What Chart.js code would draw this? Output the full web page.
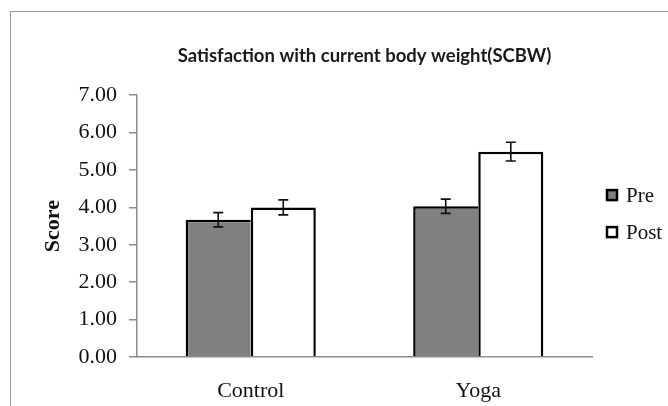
<!DOCTYPE html>
<html>
<head>
<meta charset="utf-8">
<script src="https://cdn.jsdelivr.net/npm/chart.js@4"></script>
<style>
  html, body { margin: 0; padding: 0; background: #fff; }
  #wrap { position: relative; width: 668px; height: 406px; overflow: hidden; }
  #frame { position: absolute; left: 10px; top: 11px; width: 700px; height: 450px;
           border-left: 1.5px solid #9a9a9a; border-top: 1.5px solid #9a9a9a; box-sizing: border-box; }
  canvas { position: absolute; left: 0; top: 0; }
</style>
</head>
<body>
<div id="wrap">
  <div id="frame"></div>
  <canvas id="c" width="668" height="406"></canvas>
</div>
<script>
// Groups on the x axis
const categories = ['Control', 'Yoga'];
// Mean scores per group
const preScores = [3.67, 4.03];
const postScores = [4.00, 5.49];
// Standard error of each mean
const preErrors = [0.19, 0.19];
const postErrors = [0.20, 0.25];
// Y axis range and tick step
const yMin = 0, yMax = 7, yStep = 1;

const errorsByDataset = [preErrors, postErrors];

// Draws the error whiskers on top of each bar
const errorBars = {
  id: 'errorBars',
  afterDatasetsDraw(chart) {
    const { ctx, scales: { y } } = chart;
    ctx.save();
    ctx.strokeStyle = '#111';
    ctx.lineWidth = 1.6;
    chart.data.datasets.forEach((ds, di) => {
      const meta = chart.getDatasetMeta(di);
      meta.data.forEach((bar, i) => {
        const v = ds.data[i], e = errorsByDataset[di][i];
        const top = y.getPixelForValue(v + e);
        const bot = y.getPixelForValue(v - e);
        const cap = 5;
        ctx.beginPath();
        ctx.moveTo(bar.x, top); ctx.lineTo(bar.x, bot);
        ctx.moveTo(bar.x - cap, top); ctx.lineTo(bar.x + cap, top);
        ctx.moveTo(bar.x - cap, bot); ctx.lineTo(bar.x + cap, bot);
        ctx.stroke();
      });
    });
    ctx.restore();
  }
};

// Legend with small square swatches to the right of the plot
const sideLegend = {
  id: 'sideLegend',
  afterDraw(chart) {
    const { ctx, chartArea } = chart;
    const mid = (chartArea.top + chartArea.bottom) / 2;
    const rows = [mid - 31, mid + 6];
    ctx.save();
    ctx.font = '21px "Liberation Serif"';
    ctx.textBaseline = 'middle';
    chart.data.datasets.forEach((ds, i) => {
      const cy = rows[i];
      const bx = chartArea.right + 15;
      ctx.fillStyle = ds.backgroundColor;
      ctx.fillRect(bx, cy - 5, 10, 10);
      ctx.strokeStyle = '#000';
      ctx.lineWidth = 2.5;
      ctx.strokeRect(bx, cy - 5, 10, 10);
      ctx.fillStyle = '#111';
      ctx.fillText(ds.label, bx + 19, cy + 1);
    });
    ctx.restore();
  }
};

new Chart(document.getElementById('c'), {
  type: 'bar',
  data: {
    labels: categories,
    datasets: [
      { label: 'Pre', data: preScores, backgroundColor: '#808080', borderColor: '#000',
        borderWidth: { top: 2.5, left: 2.5, right: 0, bottom: 0 }, borderSkipped: false },
      { label: 'Post', data: postScores, backgroundColor: '#ffffff', borderColor: '#000',
        borderWidth: { top: 2.5, left: 2.5, right: 2.5, bottom: 0 }, borderSkipped: false }
    ]
  },
  options: {
    responsive: false,
    animation: false,
    devicePixelRatio: 1,
    layout: { padding: { left: 30, right: 76, top: 0, bottom: 0 } },
    datasets: { bar: { categoryPercentage: 0.572, barPercentage: 1 } },
    plugins: {
      legend: { display: false },
      tooltip: { enabled: false },
      title: {
        display: true,
        fullSize: false,
        text: 'Satisfaction with current body weight(SCBW)',
        color: '#1a1a1a',
        font: { family: 'Lato', size: 18.5, weight: 'bold', lineHeight: 1.2 },
        padding: { top: 45, bottom: 28 }
      }
    },
    scales: {
      x: {
        grid: { display: false, drawTicks: false },
        border: { display: true, color: '#8c8c8c', width: 1.5 },
        ticks: { color: '#111', padding: 21, font: { family: 'Liberation Serif', size: 22 } },
        afterFit(s) { s.height = 49; }
      },
      y: {
        min: yMin, max: yMax,
        grid: { drawOnChartArea: false, drawTicks: true, tickLength: 8, color: '#8c8c8c', lineWidth: 1.5 },
        border: { display: true, color: '#8c8c8c', width: 1.5 },
        ticks: { stepSize: yStep, color: '#111', padding: 12,
                 font: { family: 'Liberation Serif', size: 22 },
                 callback: v => Number(v).toFixed(2) },
        title: { display: true, text: 'Score', color: '#111',
                 font: { family: 'Liberation Serif', size: 22, weight: 'bold', lineHeight: 1.2 },
                 padding: { top: 10, bottom: 0 } },
        afterFit(s) { s.width = 107; }
      }
    }
  },
  plugins: [errorBars, sideLegend]
});
</script>
</body>
</html>
